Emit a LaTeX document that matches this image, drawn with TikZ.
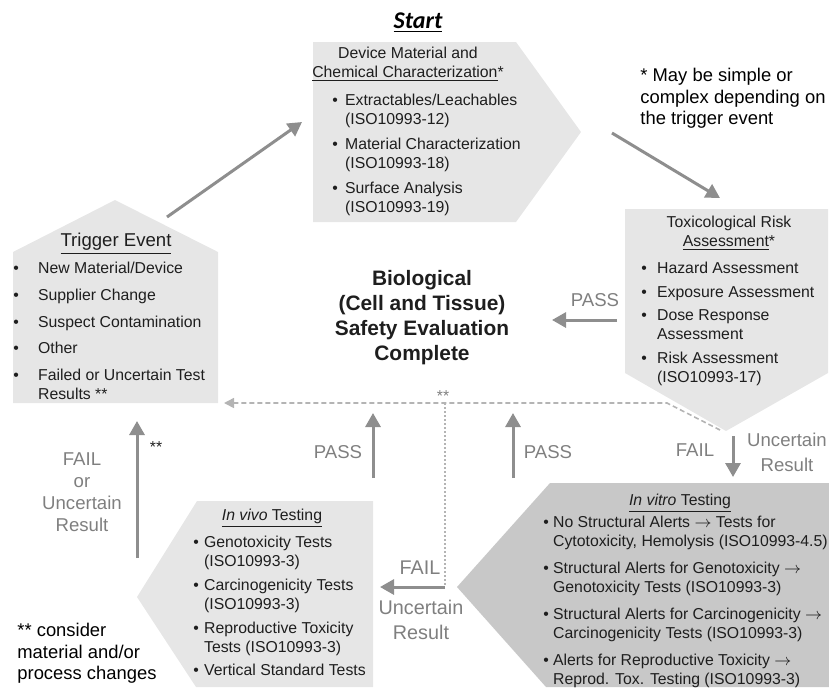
\documentclass[tikz,border=0pt]{standalone}
\usepackage{fontspec}
\setmainfont{Liberation Sans}
\newfontfamily\startfont{Carlito}
\usetikzlibrary{arrows.meta,positioning}

\definecolor{boxgray}{HTML}{E6E6E6}
\definecolor{vitrogray}{HTML}{C8C8C8}
\definecolor{arrowgray}{HTML}{8E8E8E}
\definecolor{labelgray}{HTML}{7F7F7F}
\definecolor{dashgray}{HTML}{B4B4B4}
\definecolor{textdark}{HTML}{1E1E1E}

\newcommand{\bul}{\textbullet}
\newcommand{\blist}[2]{\begin{tabular}[t]{@{}l@{\hspace{#1}}l@{}}#2\end{tabular}}
\newcommand{\cstack}[1]{\begin{tabular}[t]{@{}c@{}}#1\end{tabular}}
\newcommand{\lstack}[1]{\begin{tabular}[t]{@{}l@{}}#1\end{tabular}}

\begin{document}
\begin{tikzpicture}[x=0.5pt,y=-0.5pt,
  box/.style={fill=boxgray,draw=none},
  vitrobox/.style={fill=vitrogray,draw=none},
  txt/.style={inner sep=0pt,text=textdark,font=\fontsize{7.9}{9.6}\selectfont},
  head/.style={txt,anchor=base},
  lst/.style={txt,anchor=base west},
  lbl/.style={inner sep=0pt,anchor=base,text=labelgray,font=\fontsize{9.3}{11}\selectfont},
  biglbl/.style={lbl,font=\fontsize{9.9}{12.5}\selectfont},
  note/.style={inner sep=0pt,anchor=base west,text=black,font=\fontsize{9.2}{10.75}\selectfont},
  flow/.style={arrowgray,line width=1.5pt,-{Triangle[length=7pt,width=7.5pt]}},
  back/.style={draw=dashgray,line width=0.8pt,dash pattern=on 2.5pt off 1.5pt,-{Triangle[length=5pt,width=5pt]}},
  dots/.style={draw=dashgray,line width=0.8pt,dash pattern=on 1pt off 1pt}]
\useasboundingbox (0,0) rectangle (829,687);

% boxes
\fill[box] (313,42) -- (516,42) -- (581,132) -- (516,222) -- (313,222) -- cycle;
\fill[box] (13,403) -- (13,252) -- (115,200) -- (218,252) -- (218,403) -- cycle;
\fill[box] (625,209) -- (828,209) -- (828,373) -- (726,431) -- (625,373) -- cycle;
\fill[vitrobox] (550,483) -- (829,483) -- (829,687) -- (546,687) -- (457,587) -- cycle;
\fill[box] (197,501) -- (373,501) -- (373,687) -- (196,687) -- (137,597) -- cycle;

% arrow ends
\coordinate (trigout) at (167,217);
\coordinate (devin) at (302,122);
\coordinate (devout) at (612,133);
\coordinate (toxin) at (720,198);
\coordinate (toxpass) at (617,320);
\coordinate (bioin) at (552,320);
\coordinate (toxfail) at (733,436);
\coordinate (vitroin) at (733,477);
\coordinate (vivopass) at (373,478);
\coordinate (vivotop) at (373,413);
\coordinate (vitropass) at (513,478);
\coordinate (vitrotop) at (513,413);
\coordinate (vitroout) at (445,587);
\coordinate (vivoin) at (380,587);
\coordinate (vivoup) at (137,558);
\coordinate (trigin) at (137,421);
\coordinate (toxtip) at (720,430);
\coordinate (bend) at (667,403);
\coordinate (stars) at (445,403);
\coordinate (trigback) at (224,403);

% texts
\node (start) [anchor=base,inner sep=0pt,font=\startfont\bfseries\itshape\fontsize{12}{14}\selectfont] at (418,28) {\underline{Start}};

\node[head] (devhead) at (408,58.5) {\cstack{Device Material and\\\underline{Chemical Characterization}*}};
\node[lst] (devlist) at (332,105.5) {\blist{3.6pt}{%
  \bul & Extractables/Leachables\\ & (ISO10993-12)\\[2.7pt]
  \bul & Material Characterization\\ & (ISO10993-18)\\[2.7pt]
  \bul & Surface Analysis\\ & (ISO10993-19)}};

\node[head] (trighead) [font=\fontsize{9.3}{11}\selectfont] at (116,246.5) {\underline{Trigger Event}};
\node[lst] (triglist) at (13,273.5) {\blist{9.6pt}{%
  \bul & New Material/Device\\[3.8pt]
  \bul & Supplier Change\\[3.8pt]
  \bul & Suspect Contamination\\[3.8pt]
  \bul & Other\\[3.8pt]
  \bul & Failed or Uncertain Test\\ & Results **}};

\node[head] (toxhead) at (729,227.5) {\cstack{Toxicological Risk\\\underline{Assessment}*}};
\node[lst] (toxlist) at (641,273.5) {\blist{5.1pt}{%
  \bul & Hazard Assessment\\[2.2pt]
  \bul & Exposure Assessment\\[2.2pt]
  \bul & Dose Response\\ & Assessment\\[2.2pt]
  \bul & Risk Assessment\\ & (ISO10993-17)}};

\node[head] (vitrohead) at (680,505) {\underline{\textit{In vitro} Testing}};
\node[lst] (vitrolist) at (543,527.5) {\blist{2.1pt}{%
  \bul & No Structural Alerts $\rightarrow$ Tests for\\ & Cytotoxicity, Hemolysis (ISO10993-4.5)\\[3.8pt]
  \bul & Structural Alerts for Genotoxicity $\rightarrow$\\ & Genotoxicity Tests (ISO10993-3)\\[3.8pt]
  \bul & Structural Alerts for Carcinogenicity $\rightarrow$\\ & Carcinogenicity Tests (ISO10993-3)\\[3.8pt]
  \bul & Alerts for Reproductive Toxicity $\rightarrow$\\ & Reprod. Tox. Testing (ISO10993-3)}};

\node[head] (vivohead) at (272,520.5) {\underline{\textit{In vivo} Testing}};
\node[lst] (vivolist) at (193,547.5) {\blist{2.6pt}{%
  \bul & Genotoxicity Tests\\ & (ISO10993-3)\\[2.2pt]
  \bul & Carcinogenicity Tests\\ & (ISO10993-3)\\[2.2pt]
  \bul & Reproductive Toxicity\\ & Tests (ISO10993-3)\\[2.2pt]
  \bul & Vertical Standard Tests}};

\node (bio) [anchor=base,inner sep=0pt,text=textdark,font=\bfseries\fontsize{10.45}{12.5}\selectfont] at (422,285.5)
  {\cstack{Biological\\(Cell and Tissue)\\Safety Evaluation\\Complete}};

\node[note] (simplenote) at (640,81.5) {\lstack{* May be simple or\\complex depending on\\the trigger event}};
\node[note] (changenote) at (17,636.5) {\lstack{** consider\\material and/or\\process changes}};

% arrow labels
\node[lbl] (passtox) at (595,306.5) {PASS};
\node[lbl] (failtox) at (695,456.5) {FAIL};
\node[lbl] (unctox) [font=\fontsize{9.3}{12.5}\selectfont] at (787,446.5) {\cstack{Uncertain\\Result}};
\node[lbl] (passvivo) at (338,458.5) {PASS};
\node[lbl] (passvitro) at (548,458.5) {PASS};
\node[biglbl] (failvitro) at (420,574) {FAIL};
\node[biglbl] (uncvitro) at (421,614) {\cstack{Uncertain\\Result}};
\node[lbl] (failleft) at (82,465.5) {\cstack{FAIL\\or\\Uncertain\\Result}};
\node[txt] (starleft) [anchor=base] at (156,452) {**};
\node[txt] (starmid) [anchor=base,text=labelgray] at (443,401) {**};

% connectors
\path[flow]
  (trigout) edge (devin)
  (devout) edge (toxin)
  (toxpass) edge (bioin)
  (toxfail) edge (vitroin)
  (vivopass) edge (vivotop)
  (vitropass) edge (vitrotop)
  (vitroout) edge (vivoin)
  (vivoup) edge (trigin);
\draw[back] (toxtip) -- (bend) -- (trigback);
\draw[dots] (stars) -- (vitroout);

\end{tikzpicture}
\end{document}
